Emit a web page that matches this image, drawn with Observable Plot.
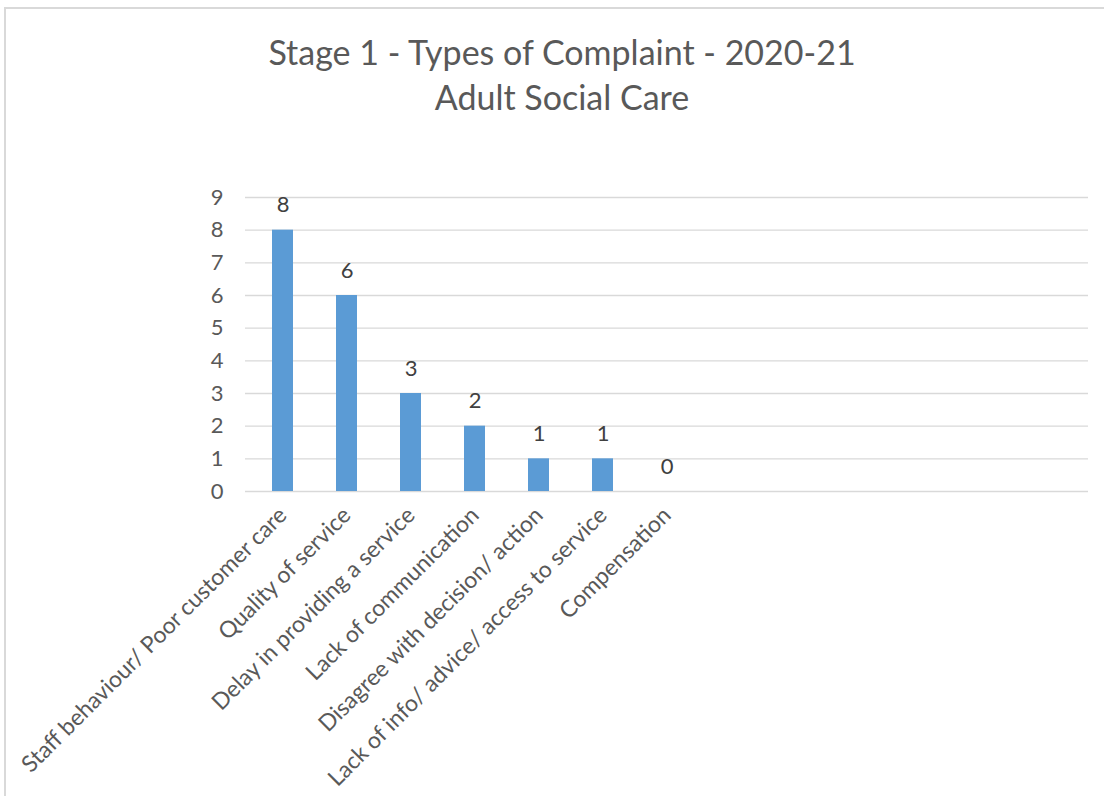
<!DOCTYPE html>
<html>
<head>
<meta charset="utf-8">
<script src="https://cdn.jsdelivr.net/npm/d3@7"></script>
<script src="https://cdn.jsdelivr.net/npm/@observablehq/plot@0.6"></script>
<style>
  html, body { margin: 0; padding: 0; background: #fff; }
  #wrap { position: relative; width: 1104px; height: 796px; overflow: hidden; font-family: Lato, "Open Sans", sans-serif; }
  #frame { position: absolute; left: 4px; top: 7px; width: 1110px; height: 800px; border-left: 2px solid #d9d9d9; border-top: 2px solid #d9d9d9; box-sizing: border-box; }
  #title { position: absolute; left: 0; top: 29px; width: 1124px; text-align: center; color: #595959; font-size: 34px; line-height: 45px; }
  #chart { position: absolute; left: 0; top: 0; }
</style>
</head>
<body>
<div id="wrap">
  <div id="frame"></div>
  <div id="title">Stage 1 - Types of Complaint - 2020-21<br>Adult Social Care</div>
  <div id="chart"></div>
</div>
<script>
const categories = [
  "Staff behaviour/ Poor customer care",
  "Quality of service",
  "Delay in providing a service",
  "Lack of communication",
  "Disagree with decision/ action",
  "Lack of info/ advice/ access to service",
  "Compensation",
  "blank1", "blank2", "blank3", "blank4", "blank5", "blank6"
];
const values = [8, 6, 3, 2, 1, 1, 0, null, null, null, null, null, null];
const yTicks = [0, 1, 2, 3, 4, 5, 6, 7, 8, 9];

const data = categories.map((c, i) => ({category: c, value: values[i]}));
const shown = data.filter(d => d.value != null);

const chart = Plot.plot({
  width: 1104,
  height: 796,
  marginTop: 197,
  marginBottom: 305,
  marginLeft: 245,
  marginRight: 16,
  style: {fontFamily: "Lato, 'Open Sans', sans-serif", color: "#595959", background: "transparent"},
  x: {domain: categories, paddingInner: 0.677, paddingOuter: 0.3385, label: null},
  y: {domain: [0, 9], label: null},
  marks: [
    Plot.gridY(yTicks, {stroke: "#d9d9d9", strokeOpacity: 1, strokeWidth: 1.3}),
    Plot.barY(shown, {x: "category", y: "value", fill: "#5b9bd5"}),
    Plot.text(shown, {x: "category", y: "value", text: d => String(d.value), dy: -25, fontSize: 22, fill: "#404040"}),
    Plot.axisY({ticks: yTicks, tickSize: 0, tickPadding: 22, fontSize: 22, label: null, tickFormat: d => String(d)}),
    Plot.axisX({tickSize: 0, tickPadding: 20, tickRotate: -45, fontSize: 23, label: null,
      tickFormat: d => d.startsWith("blank") ? "" : d})
  ]
});
document.getElementById("chart").appendChild(chart);
</script>
</body>
</html>
